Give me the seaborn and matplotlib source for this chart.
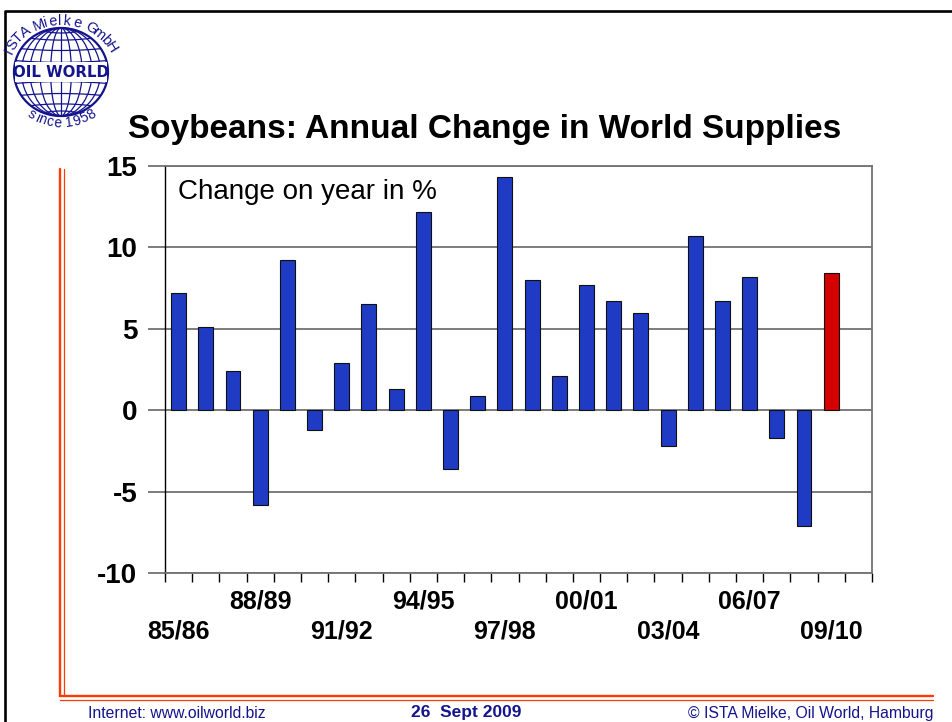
import numpy as np
import pandas as pd
import matplotlib
matplotlib.use("Agg")
import matplotlib.pyplot as plt
from matplotlib.patches import Ellipse, Rectangle
import seaborn as sns

# ---- data -------------------------------------------------------------
seasons = ["85/86", "86/87", "87/88", "88/89", "89/90", "90/91", "91/92",
           "92/93", "93/94", "94/95", "95/96", "96/97", "97/98", "98/99",
           "99/00", "00/01", "01/02", "02/03", "03/04", "04/05", "05/06",
           "06/07", "07/08", "08/09", "09/10"]
change_pct = [7.2, 5.1, 2.4, -5.8, 9.2, -1.2, 2.9, 6.5, 1.3, 12.2, -3.6, 0.9,
              14.3, 8.0, 2.1, 7.7, 6.7, 6.0, -2.2, 10.7, 6.7, 8.2, -1.7, -7.1,
              8.4]
status = ["actual"] * 24 + ["forecast"]
labeled_seasons = ["85/86", "88/89", "91/92", "94/95", "97/98", "00/01",
                   "03/04", "06/07", "09/10"]
y_ticks = [-10, -5, 0, 5, 10, 15]

BLUE = "#1f3bc4"
RED = "#d40000"
NAVY = "#14148c"
ORANGE = "#ff3c00"
GRID = "#727272"

df = pd.DataFrame({"season": seasons, "change": change_pct, "status": status})

sns.set_theme(style="white")
plt.rcParams["font.family"] = ["Liberation Sans", "DejaVu Sans"]
plt.rcParams["text.color"] = "black"
plt.rcParams["xtick.color"] = "black"
plt.rcParams["ytick.color"] = "black"
plt.rcParams["xtick.labelcolor"] = "black"
plt.rcParams["ytick.labelcolor"] = "black"

W, H = 952, 722
fig = plt.figure(figsize=(W / 100, H / 100), dpi=100)
fig.patch.set_facecolor("white")

# ---- page decoration (pixel coordinates) ------------------------------
deco = fig.add_axes([0, 0, 1, 1])
deco.set_xlim(0, W)
deco.set_ylim(H, 0)
deco.axis("off")

# black frame
deco.plot([4.5, 4.5, W], [H, 10.5, 10.5], color="black", lw=1.9,
          solid_capstyle="butt")
# orange double rule
deco.plot([59.7, 59.7, 933], [169, 695.5, 695.5], color=ORANGE, lw=1.7,
          solid_joinstyle="miter")
deco.plot([63.5, 63.5], [169, 695], color=ORANGE, lw=0.9)
deco.plot([60, 933], [700, 700], color=ORANGE, lw=0.9)

# footer
deco.text(88, 718, "Internet: www.oilworld.biz", color=NAVY, fontsize=11.3,
          va="baseline", ha="left")
deco.text(411, 717, "26  Sept 2009", color=NAVY, fontsize=12.5,
          fontweight="bold", va="baseline", ha="left")
deco.text(933, 718, "\u00a9 ISTA Mielke, Oil World, Hamburg", color=NAVY,
          fontsize=11.3, va="baseline", ha="right")

# logo: globe
cx, cy, rx, ry = 61, 72, 47, 44
deco.add_patch(Ellipse((cx, cy), 2 * rx, 2 * ry, fill=False, ec=NAVY, lw=1.6))
for f in [0.22, 0.45, 0.66, 0.84]:
    deco.add_patch(Ellipse((cx, cy), 2 * rx * f, 2 * ry, fill=False,
                           ec=NAVY, lw=0.9))
deco.plot([cx, cx], [cy - ry, cy + ry], color=NAVY, lw=0.9)
for lat in [15, 32, 50, 68]:
    s = np.sin(np.radians(lat))
    c = np.cos(np.radians(lat))
    for sign in (-1, 1):
        xs = np.linspace(-rx * c, rx * c, 40)
        bow = 3.0 * (1 - (xs / (rx * c)) ** 2) * sign
        deco.plot(cx + xs, cy + sign * ry * s - bow * 0.6, color=NAVY, lw=0.9)
deco.add_patch(Rectangle((15, 62), 92, 20, fc="white", ec="none", zorder=3))
deco.text(cx, 72.5, "OIL WORLD", ha="center", va="center", fontsize=10.8,
          fontweight="heavy", color=NAVY, family="DejaVu Sans", zorder=4)


def arc_text(text, arx, ary, a0, a1, size, top=True):
    widths = np.array([0.35 if ch == " " else (0.3 if ch in "Iil" else 0.6)
                       for ch in text])
    cum = np.cumsum(widths) - widths / 2
    frac = cum / widths.sum()
    for ch, t in zip(text, frac):
        ang = a0 + (a1 - a0) * t
        rad = np.radians(ang)
        x = cx + arx * np.cos(rad)
        y = cy - ary * np.sin(rad)
        # tangent direction of the ellipse, in screen orientation
        tang = np.degrees(np.arctan2(ary * np.cos(rad), -arx * np.sin(rad)))
        rot = tang + 180 if top else tang
        deco.text(x, y, ch, ha="center", va="center", rotation=rot,
                  rotation_mode="anchor", fontsize=size, color=NAVY)


arc_text("ISTA Mielke GmbH", 57, 51, 158, 24, 10.5, top=True)
arc_text("since 1958", 54, 51, 233, 308, 10, top=False)

# title
fig.text(485 / W, 1 - 138 / H, "Soybeans: Annual Change in World Supplies",
         ha="center", va="baseline", fontsize=24, fontweight="bold",
         color="black")

# ---- bar chart ---------------------------------------------------------
ax = fig.add_axes([165 / W, 1 - 573 / H, 707 / W, 407 / H])
ax.set_facecolor("white")
sns.barplot(data=df, x="season", y="change", hue="status", order=seasons,
            palette={"actual": BLUE, "forecast": RED}, dodge=False,
            width=0.55, saturation=1, edgecolor="#101010", linewidth=0.8,
            legend=False, ax=ax)

ax.set_xlim(-0.5, 25.5)
ax.set_ylim(-10, 15)
ax.set_yticks(y_ticks)
ax.set_yticklabels([str(v) for v in y_ticks], fontsize=20, fontweight="bold",
                   color="black")
ax.yaxis.grid(True, color=GRID, lw=1.3)
ax.xaxis.grid(False)
ax.set_axisbelow(True)

label_pos = [seasons.index(s) for s in labeled_seasons]
label_txt = [s if i % 2 else "\n" + s for i, s in enumerate(labeled_seasons)]
ax.set_xticks(label_pos)
ax.set_xticklabels(label_txt, fontsize=18, fontweight="bold", color="black")
for t in ax.get_xticklabels():
    t.set_linespacing(1.3)
ax.set_xticks(np.arange(-0.5, 26, 1), minor=True)
ax.tick_params(axis="x", which="major", length=0, pad=12)
ax.tick_params(axis="x", which="minor", length=6.5, width=1.0,
               color="black", direction="out", bottom=True)
ax.tick_params(axis="y", length=12, width=1.3, color=GRID, direction="out",
               pad=8, left=True)
ax.set_xlabel("")
ax.set_ylabel("")

for side in ["top", "right", "bottom"]:
    ax.spines[side].set_color(GRID)
    ax.spines[side].set_linewidth(1.3)
ax.spines["left"].set_color("black")
ax.spines["left"].set_linewidth(1.0)

ax.text(178, 199, "Change on year in %", transform=deco.transData,
        fontsize=20, va="baseline", ha="left", color="black")

fig.savefig("out.png", dpi=100, facecolor="white")
